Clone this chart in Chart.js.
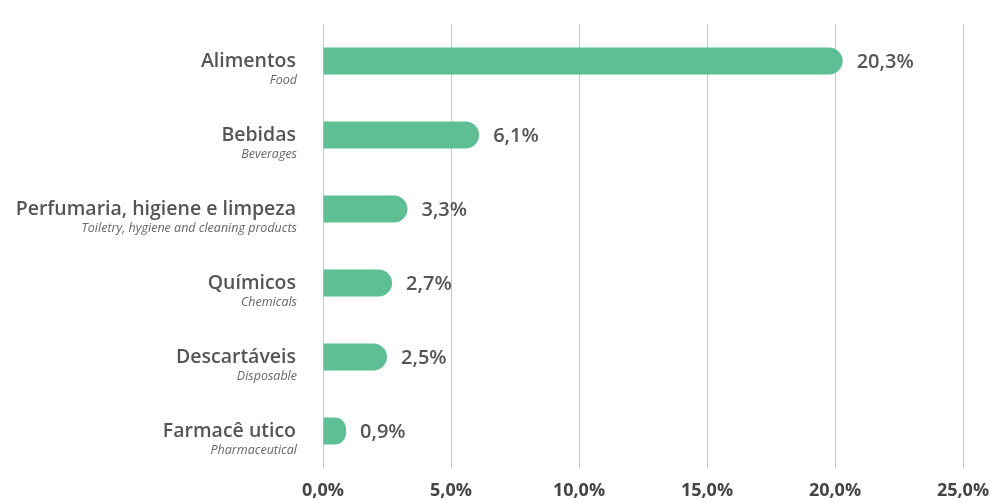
<!doctype html>
<html>
  <head>
    <meta charset="utf-8" />
    <title>Segmentos</title>
    <script src="https://cdn.jsdelivr.net/npm/chart.js@4"></script>
    <style>
      html, body { margin: 0; padding: 0; background: #fff; }
      #wrap { width: 998px; height: 500px; }
    </style>
    <script>
      // dados
      const categorias = ["Alimentos", "Bebidas", "Perfumaria, higiene e limpeza", "Químicos", "Descartáveis", "Farmacê utico"];
      const categoriasEn = ["Food", "Beverages", "Toiletry, hygiene and cleaning products", "Chemicals", "Disposable", "Pharmaceutical"];
      const valores = [20.3, 6.1, 3.3, 2.7, 2.5, 0.9];
      const ticksX = [0, 5, 10, 15, 20, 25];

      const verde = "#5dbf93";
      const cinza = "#555555";
      const fonte = "'Open Sans', 'DejaVu Sans', sans-serif";

      function pct(v) {
        return v.toFixed(1).replace(".", ",") + "%";
      }

      // desenha rótulos de duas linhas e os valores
      const rotulos = {
        id: "rotulos",
        afterDatasetsDraw(chart) {
          const ctx = chart.ctx;
          const y = chart.scales.y;
          const meta = chart.getDatasetMeta(0);
          ctx.save();
          categorias.forEach((cat, i) => {
            const py = y.getPixelForValue(i);
            ctx.textAlign = "right";
            ctx.textBaseline = "alphabetic";
            ctx.fillStyle = cinza;
            ctx.font = "600 19.5px " + fonte;
            ctx.fillText(cat, 296, py + 6);
            ctx.font = "italic 12.5px " + fonte;
            ctx.fillStyle = "#666";
            ctx.fillText(categoriasEn[i], 297, py + 23);

            const bar = meta.data[i];
            ctx.textAlign = "left";
            ctx.textBaseline = "middle";
            ctx.fillStyle = cinza;
            ctx.font = "600 20px " + fonte;
            ctx.fillText(pct(valores[i]), bar.x + 14, py + 1);
          });
          ctx.restore();
        },
      };

      document.addEventListener("DOMContentLoaded", iniciar);

      function iniciar() {
        const canvas = document.getElementById("chart");
        new Chart(canvas, {
          type: "bar",
          data: {
            labels: categorias,
            datasets: [
              {
                data: valores,
                backgroundColor: verde,
                borderRadius: 14,
                borderSkipped: "start",
                barPercentage: 0.365,
                categoryPercentage: 1,
              },
            ],
          },
          options: {
            indexAxis: "y",
            responsive: false,
            animation: false,
            layout: { padding: { top: 24, right: 35, bottom: 0, left: 0 } },
            plugins: { legend: { display: false }, tooltip: { enabled: false } },
            scales: {
              x: {
                min: 0,
                max: 25,
                afterBuildTicks: (s) => {
                  s.ticks = ticksX.map((v) => ({ value: v }));
                },
                afterFit: (s) => {
                  s.height = 32;
                  s.paddingLeft = 0;
                  s.paddingRight = 0;
                },
                grid: { color: "#c8c8c8", lineWidth: 1, tickLength: 0, drawTicks: false },
                border: { display: false },
                ticks: {
                  padding: 12,
                  color: "#444",
                  font: { family: fonte, size: 18, weight: "bold" },
                  callback: (v) => pct(v),
                },
              },
              y: {
                grid: { display: false },
                border: { display: false },
                ticks: { display: false },
                afterFit: (s) => {
                  s.width = 323;
                },
              },
            },
          },
          plugins: [rotulos],
        });
      }
    </script>
  </head>
  <body>
    <div id="wrap">
      <canvas id="chart" width="998" height="500"></canvas>
    </div>
  </body>
</html>
